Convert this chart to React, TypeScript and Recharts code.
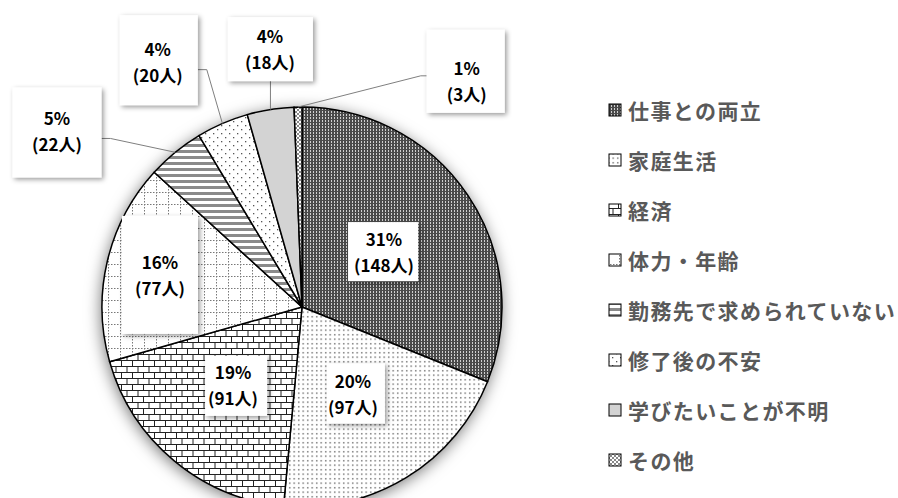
import { PieChart, Pie, Cell, Legend } from 'recharts';

// 理由別の人数
const reasons = [
  '仕事との両立',
  '家庭生活',
  '経済',
  '体力・年齢',
  '勤務先で求められていない',
  '修了後の不安',
  '学びたいことが不明',
  'その他',
];
const counts = [148, 97, 91, 77, 22, 20, 18, 3];

const data = reasons.map((name, i) => ({ name, value: counts[i] }));

const fills = [
  'url(#pWork)',
  'url(#pHome)',
  'url(#pEcon)',
  'url(#pBody)',
  'url(#pReq)',
  'url(#pAnx)',
  '#d3d3d3',
  'url(#pOther)',
];

// label placement: r = fraction of outer radius, shift = clockwise degrees from mid angle,
// w/h = box size, bx/by = box offset from text centre
const labelLayout = [
  { r: 0.495, shift: 0, w: 70, h: 59, bx: -1, by: 0 },
  { r: 0.502, shift: 0.9, w: 58, h: 60, bx: 3, by: 0 },
  { r: 0.52, shift: 1.8, w: 62, h: 60, bx: 3, by: 1 },
  { r: 0.728, shift: -0.5, w: 76, h: 118, bx: 0, by: 0 },
  { r: 1.51, shift: -14.9, w: 89, h: 90, bx: 0, by: 2 },
  { r: 1.423, shift: -7.0, w: 78, h: 90, bx: 1, by: -1.5 },
  { r: 1.302, shift: 2.0, w: 85, h: 64, bx: 0.5, by: 0.5 },
  { r: 1.399, shift: 37.2, w: 78, h: 83, bx: -1, by: -9.5 },
];

const FONT = "'Noto Sans CJK JP', 'Noto Sans', sans-serif";
const RAD = Math.PI / 180;

const renderLabel = (props: any) => {
  const { cx, cy, midAngle, outerRadius, index, percent, value } = props;
  const L = labelLayout[index];
  if (!L) return null;
  const a = (midAngle - L.shift) * RAD;
  const tx = cx + outerRadius * L.r * Math.cos(a);
  const ty = cy - outerRadius * L.r * Math.sin(a);
  const bx = tx + L.bx - L.w / 2;
  const by = ty + L.by - L.h / 2;

  let line: string | null = null;
  if (L.r > 1) {
    const m = midAngle * RAD;
    const ax = cx + outerRadius * Math.cos(m);
    const ay = cy - outerRadius * Math.sin(m);
    if (bx + L.w < ax - 10) {
      const sy = ty + 8;
      line = `M${bx + L.w},${sy} L${bx + L.w + 9},${sy} L${ax},${ay}`;
    } else if (bx > ax + 10) {
      const sy = ty - 5;
      line = `M${bx},${sy} L${bx - 6},${sy} L${ax},${ay}`;
    } else {
      line = `M${ax},${by + L.h} L${ax},${ay}`;
    }
  }

  return (
    <g key={`lbl-${index}`}>
      {line && <path d={line} fill="none" stroke="#7f7f7f" strokeWidth={1} />}
      <rect x={bx} y={by} width={L.w} height={L.h} fill="#fff" filter="url(#boxShadow)" />
      <text
        x={tx}
        y={ty - 13}
        textAnchor="middle"
        dominantBaseline="central"
        fontFamily={FONT}
        fontWeight={700}
        fontSize={17}
        fill="#000"
      >
        {`${Math.round(percent * 100)}%`}
      </text>
      <text
        x={tx}
        y={ty + 13}
        textAnchor="middle"
        dominantBaseline="central"
        fontFamily={FONT}
        fontWeight={700}
        fontSize={17}
        fill="#000"
      >
        {`(${value}人)`}
      </text>
    </g>
  );
};

const LegendContent = (props: any) => {
  const payload = props.payload || [];
  // keep the data order, not the legend's default sort
  const items = reasons
    .map((name) => payload.find((p: any) => p.value === name))
    .filter(Boolean);
  return (
    <div style={{ fontFamily: FONT }}>
      {items.map((p: any) => (
        <div
          key={p.value}
          style={{ display: 'flex', alignItems: 'center', height: 50 }}
        >
          <svg width={16} height={16} style={{ marginRight: 5 }}>
            <rect
              x={2}
              y={2}
              width={12}
              height={12}
              fill={fills[reasons.indexOf(p.value)]}
              stroke="#000"
              strokeWidth={1}
            />
          </svg>
          <span
            style={{
              fontSize: 21,
              fontWeight: 700,
              color: '#595959',
              letterSpacing: 1.4,
              whiteSpace: 'nowrap',
            }}
          >
            {p.value}
          </span>
        </div>
      ))}
    </div>
  );
};

const Patterns = () => (
  <svg width={0} height={0} style={{ position: 'absolute' }}>
    <defs>
      <filter id="boxShadow" x="-20%" y="-20%" width="140%" height="140%">
        <feDropShadow dx={2} dy={2} stdDeviation={2.5} floodColor="#000" floodOpacity={0.4} />
      </filter>
      <pattern id="pWork" width={3} height={3} patternUnits="userSpaceOnUse">
        <rect width={3} height={3} fill="#4a4a4a" />
        <rect x={1} y={0} width={1} height={2} fill="#cfcfcf" />
      </pattern>
      <pattern id="pHome" width={4.5} height={4.5} patternUnits="userSpaceOnUse">
        <rect width={4.5} height={4.5} fill="#fff" />
        <rect x={1} y={1} width={1.4} height={1.4} fill="#666" />
      </pattern>
      <pattern id="pEcon" width={11} height={12} patternUnits="userSpaceOnUse">
        <rect width={11} height={12} fill="#fff" />
        <path d="M0 0.5H11 M0 6.5H11 M0.5 0.5V6.5 M6 6.5V12" stroke="#222" strokeWidth={1} />
      </pattern>
      <pattern id="pBody" width={12} height={12} patternUnits="userSpaceOnUse">
        <rect width={12} height={12} fill="#fff" />
        <path d="M0.5 0V12 M0 0.5H12" stroke="#777" strokeWidth={1} strokeDasharray="1.5 1.5" />
      </pattern>
      <pattern id="pReq" width={6} height={6} patternUnits="userSpaceOnUse">
        <rect width={6} height={6} fill="#fff" />
        <rect width={6} height={3} fill="#8a8a8a" />
      </pattern>
      <pattern id="pAnx" width={8} height={8} patternUnits="userSpaceOnUse">
        <rect width={8} height={8} fill="#fff" />
        <rect x={1} y={1} width={1.3} height={1.3} fill="#555" />
        <rect x={5} y={5} width={1.3} height={1.3} fill="#555" />
      </pattern>
      <pattern id="pOther" width={4} height={4} patternUnits="userSpaceOnUse">
        <rect width={4} height={4} fill="#fff" />
        <path d="M0 0L4 4 M4 0L0 4" stroke="#555" strokeWidth={0.7} />
      </pattern>
    </defs>
  </svg>
);

export default function App() {
  return (
    <div style={{ position: 'absolute', left: 0, top: 0, width: 898, height: 498, background: '#fff' }}>
      <Patterns />
      <PieChart width={898} height={498}>
        <Pie
          data={[{ name: 'shadow', value: 1 }]}
          dataKey="value"
          cx={297}
          cy={302}
          outerRadius={200}
          stroke="none"
          legendType="none"
          isAnimationActive={false}
        >
          <Cell fill="#fff" style={{ filter: 'drop-shadow(-1px 3px 8px rgba(0,0,0,0.55))' }} />
        </Pie>
        <Pie
          data={data}
          dataKey="value"
          nameKey="name"
          cx={297}
          cy={302}
          outerRadius={200}
          startAngle={90}
          endAngle={-270}
          stroke="#000"
          strokeWidth={1.5}
          label={renderLabel}
          labelLine={false}
          isAnimationActive={false}
        >
          {data.map((d, i) => (
            <Cell key={d.name} fill={fills[i]} />
          ))}
        </Pie>
        <Legend
          layout="vertical"
          content={<LegendContent />}
          wrapperStyle={{ position: 'absolute', left: 607, top: 85, width: 291 }}
        />
      </PieChart>
    </div>
  );
}
